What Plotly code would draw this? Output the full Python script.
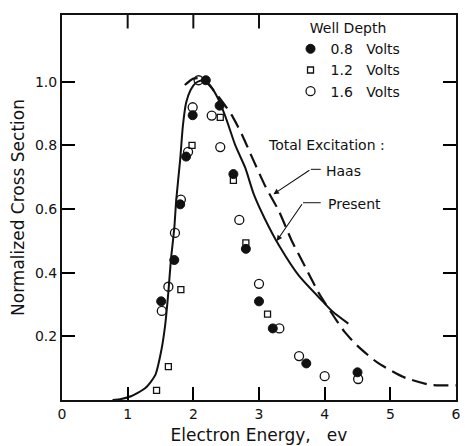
import plotly.graph_objects as go

# Measured cross sections for three well depths (energy in eV, normalized)
energy_08 = [1.51, 1.71, 1.80, 1.89, 1.99, 2.19, 2.40, 2.61, 2.80, 3.00, 3.21, 3.72, 4.50]
sigma_08 = [0.31, 0.44, 0.615, 0.765, 0.895, 1.005, 0.925, 0.71, 0.475, 0.31, 0.225, 0.115, 0.087]

energy_12 = [1.44, 1.62, 1.81, 1.98, 2.41, 2.61, 2.80, 3.13]
sigma_12 = [0.03, 0.105, 0.347, 0.80, 0.888, 0.69, 0.494, 0.27]

energy_16 = [1.52, 1.62, 1.72, 1.81, 1.92, 1.99, 2.08, 2.28, 2.41, 2.70, 3.00, 3.31, 3.61, 4.00, 4.51]
sigma_16 = [0.28, 0.356, 0.525, 0.63, 0.78, 0.92, 1.005, 0.894, 0.795, 0.566, 0.365, 0.225, 0.138, 0.075, 0.066]

# Total excitation curves
present_e = [0.77, 0.9, 1.06, 1.27, 1.42, 1.51, 1.57, 1.62, 1.66, 1.71, 1.74, 1.80, 1.84, 1.89,
             1.96, 2.04, 2.14, 2.25, 2.37, 2.49, 2.64, 2.79, 2.92, 3.09, 3.31, 3.61, 3.97, 4.12, 4.36]
present_s = [0.0, 0.003, 0.0125, 0.0375, 0.078, 0.153, 0.234, 0.34, 0.444, 0.54, 0.63, 0.756, 0.86, 0.934,
             0.975, 0.997, 1.005, 0.99, 0.95, 0.89, 0.80, 0.73, 0.647, 0.569, 0.484, 0.39, 0.31, 0.278, 0.24]

haas_e = [1.87, 2.0, 2.15, 2.3, 2.45, 2.6, 2.75, 2.9, 3.1, 3.3, 3.5, 3.7, 3.9, 4.1, 4.3, 4.5, 4.8, 5.2, 5.6, 6.0]
haas_s = [0.99, 1.01, 1.01, 0.975, 0.935, 0.89, 0.83, 0.76, 0.67, 0.595, 0.50, 0.42, 0.34, 0.275,
          0.215, 0.17, 0.118, 0.072, 0.048, 0.046]

x_ticks = [0, 1, 2, 3, 4, 5, 6]
x_labels = ["0", "1", "2", "3", "4", "5", "6"]
y_ticks = [0.2, 0.4, 0.6, 0.8, 1.0]
y_labels = ["0.2", "0.4", "0.6", "0.8", "1.0"]
top_ticks = [1, 2, 3]

INK = "#111111"
FONT = "DejaVu Sans"
NB = "\u00a0"

fig = go.Figure()

fig.add_trace(go.Scatter(x=present_e, y=present_s, mode="lines", showlegend=False,
                         line=dict(color=INK, width=2, shape="spline", smoothing=0.6)))
fig.add_trace(go.Scatter(x=haas_e, y=haas_s, mode="lines", showlegend=False,
                         line=dict(color=INK, width=2.2, dash="15px,7px", shape="spline", smoothing=0.6)))

fig.add_trace(go.Scatter(x=energy_08, y=sigma_08, mode="markers", name="0.8" + NB * 3 + "Volts",
                         marker=dict(symbol="circle", size=9, color=INK, line=dict(color=INK, width=1))))
fig.add_trace(go.Scatter(x=energy_12, y=sigma_12, mode="markers", name="1.2" + NB * 3 + "Volts",
                         marker=dict(symbol="square-open", size=6, color=INK, line=dict(color=INK, width=1.3))))
fig.add_trace(go.Scatter(x=energy_16, y=sigma_16, mode="markers", name="1.6" + NB * 3 + "Volts",
                         marker=dict(symbol="circle-open", size=9, color=INK, line=dict(color=INK, width=1.3))))

# Tick marks along the top frame
for t in top_ticks:
    fig.add_shape(type="line", xref="x", yref="y domain", x0=t, x1=t, y0=1.0, y1=0.965,
                  line=dict(color=INK, width=2))

# Leader lines and labels for the excitation curves
fig.add_shape(type="line", x0=3.79, x1=3.94, y0=0.725, y1=0.725, line=dict(color=INK, width=1))
fig.add_shape(type="line", x0=3.67, x1=3.94, y0=0.62, y1=0.62, line=dict(color=INK, width=1))
fig.add_annotation(x=3.22, y=0.647, ax=3.79, ay=0.725, axref="x", ayref="y", text="",
                   showarrow=True, arrowhead=2, arrowsize=1, arrowwidth=1.1, arrowcolor=INK)
fig.add_annotation(x=3.27, y=0.50, ax=3.67, ay=0.62, axref="x", ayref="y", text="",
                   showarrow=True, arrowhead=2, arrowsize=1, arrowwidth=1.1, arrowcolor=INK)
fig.add_annotation(x=3.1, y=0.80, text="Total Excitation :", showarrow=False,
                   xanchor="left", yanchor="middle", font=dict(family=FONT, size=14, color=INK))
fig.add_annotation(x=3.99, y=0.72, text="Haas", showarrow=False,
                   xanchor="left", yanchor="middle", font=dict(family=FONT, size=14, color=INK))
fig.add_annotation(x=4.02, y=0.615, text="Present", showarrow=False,
                   xanchor="left", yanchor="middle", font=dict(family=FONT, size=14, color=INK))

fig.update_layout(
    width=465, height=446,
    margin=dict(l=62, r=4, t=15, b=43),
    paper_bgcolor="white", plot_bgcolor="white",
    font=dict(family=FONT, size=14, color=INK),
    legend=dict(
        title=dict(text="Well Depth", side="top center", font=dict(size=14)),
        x=0.58, y=1.0, xanchor="left", yanchor="top",
        bgcolor="rgba(0,0,0,0)", font=dict(size=14), itemwidth=30, tracegroupgap=0,
    ),
    xaxis=dict(
        range=[0, 6], tickvals=x_ticks, ticktext=x_labels, ticks="inside", ticklen=13,
        tickwidth=2, tickcolor="black", showline=True, linecolor=INK, linewidth=2, mirror=True,
        showgrid=False, zeroline=False, title=dict(text="Electron Energy," + NB * 3 + "ev", standoff=8),
        tickfont=dict(size=14), layer="above traces",
    ),
    yaxis=dict(
        range=[0, 1.21], tickvals=y_ticks, ticktext=y_labels, ticks="inside", ticklen=13,
        tickwidth=2, tickcolor="black", showline=True, linecolor=INK, linewidth=2, mirror="ticks",
        showgrid=False, zeroline=False, title=dict(text="Normalized Cross Section", standoff=6),
        tickfont=dict(size=14), layer="above traces",
    ),
)

fig.write_html("out.html")
